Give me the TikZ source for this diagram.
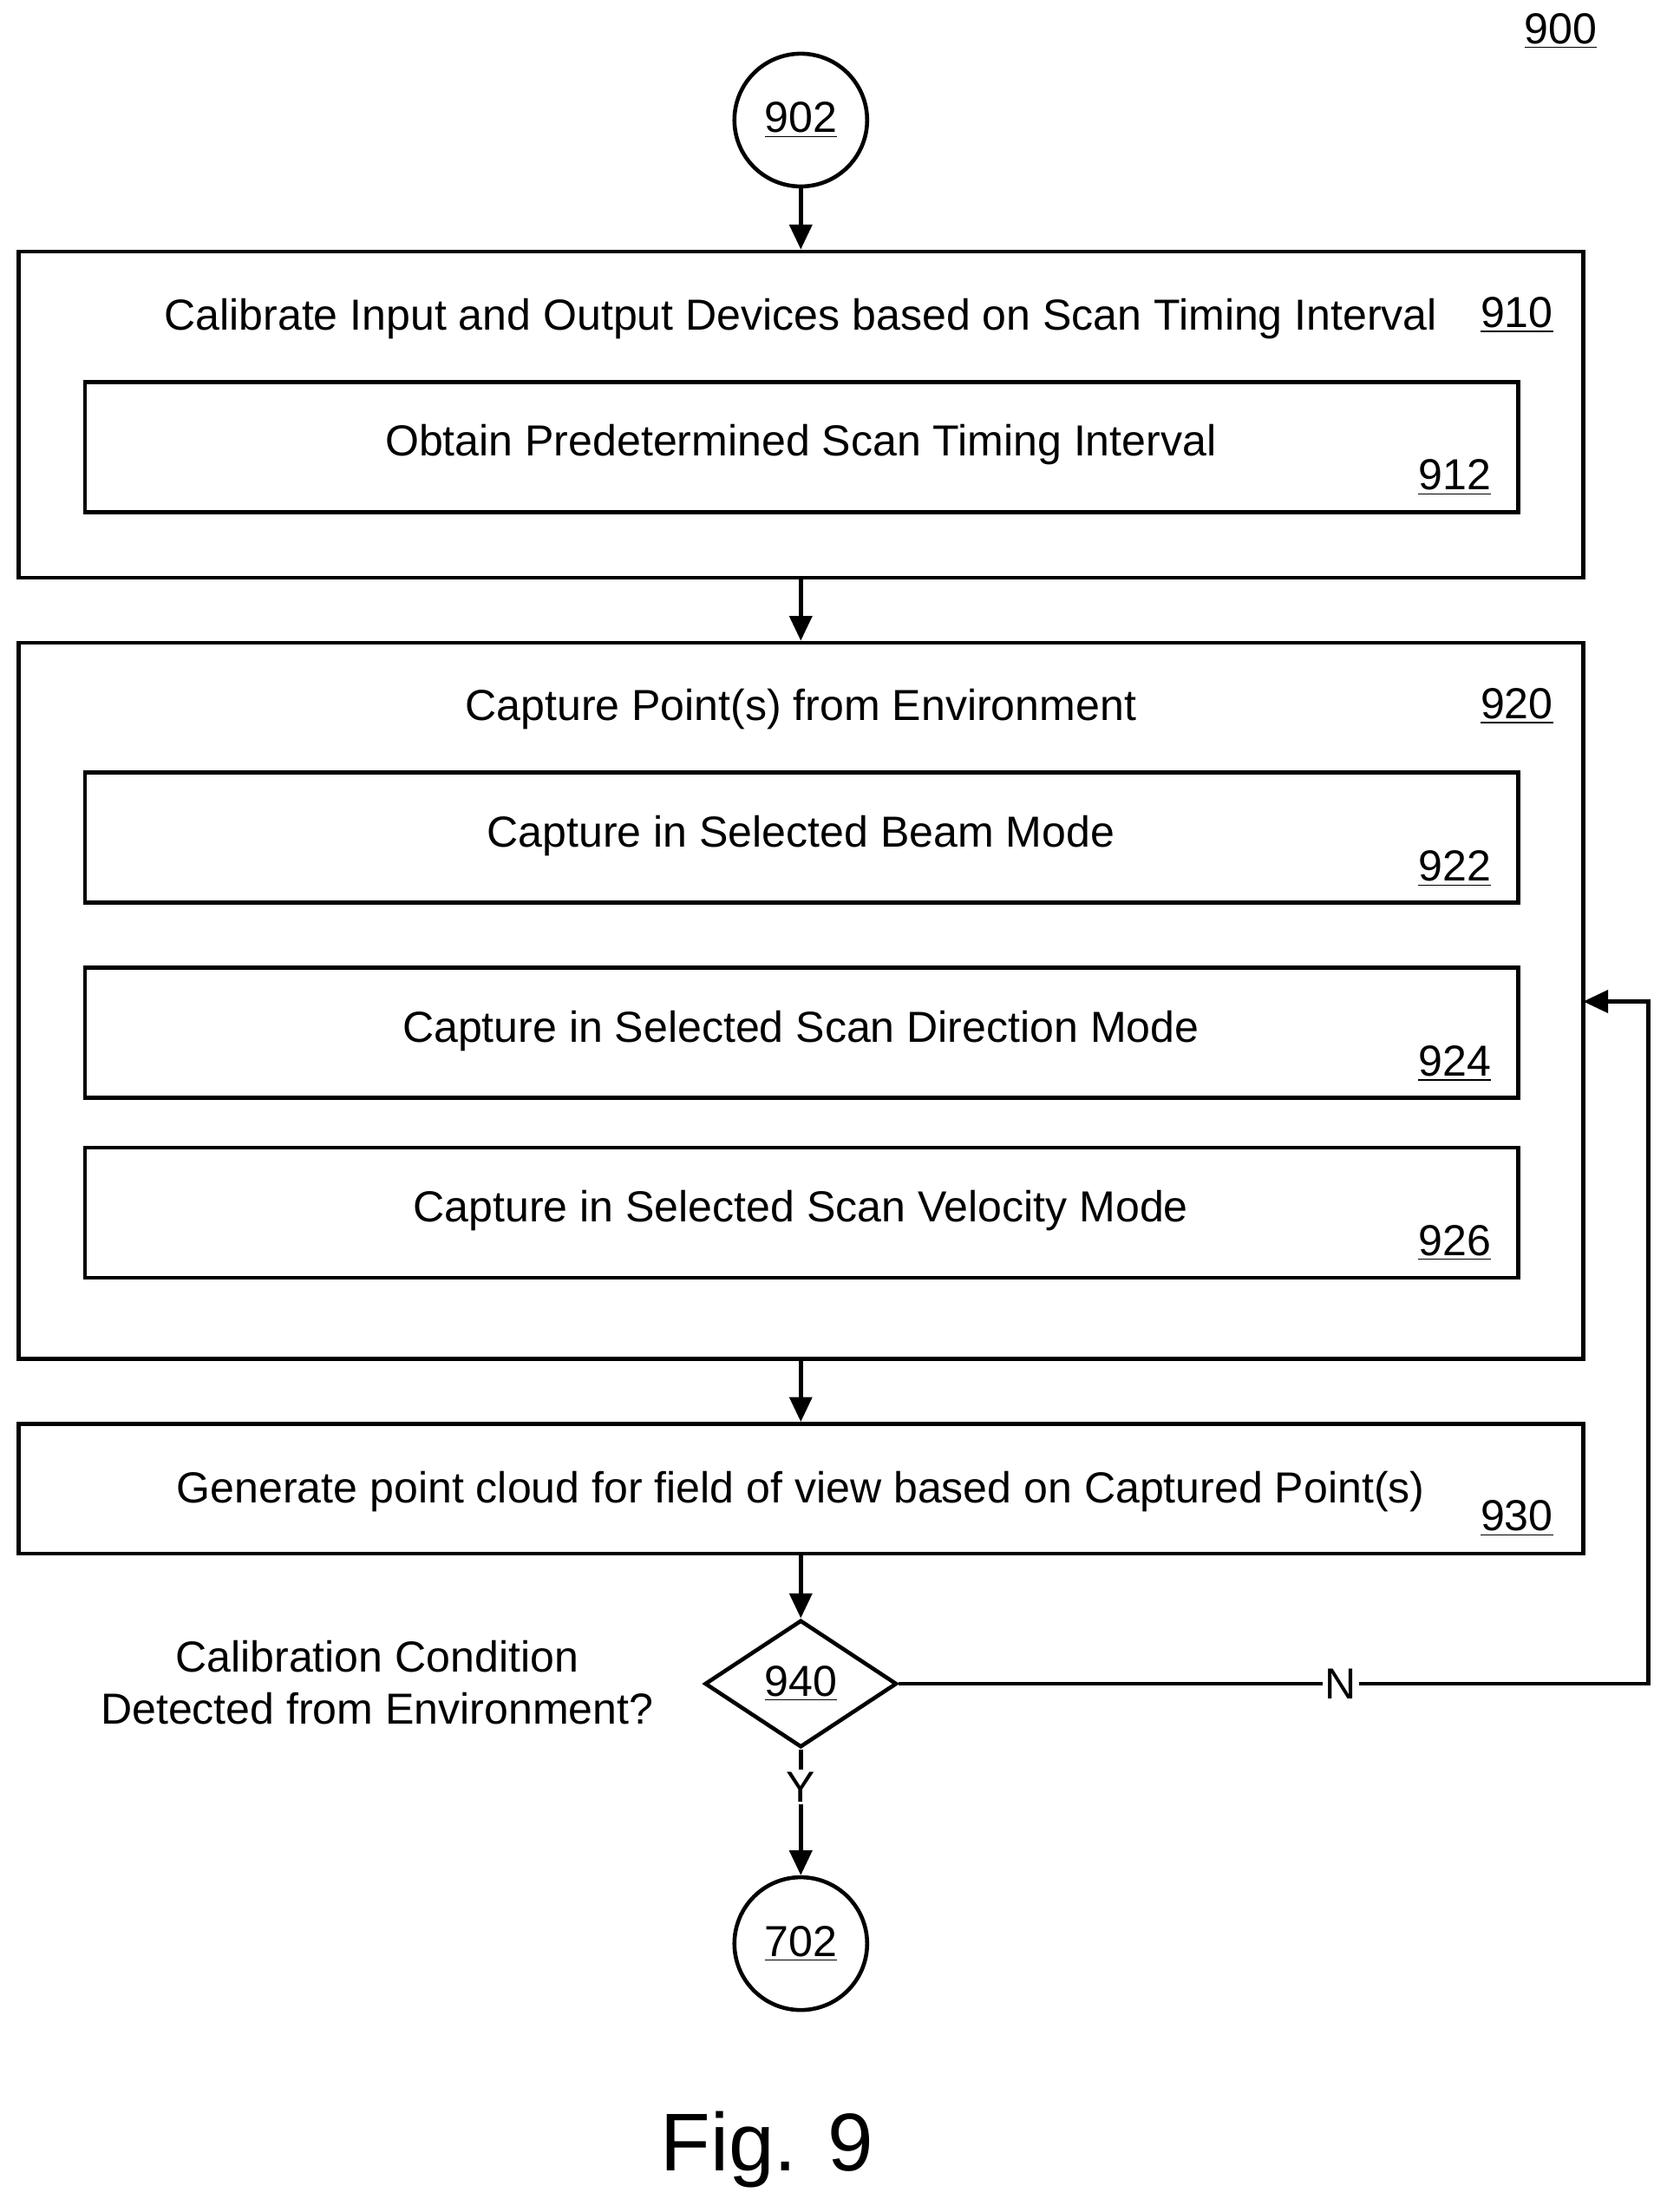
\documentclass[tikz,border=0pt]{standalone}
\usepackage{fontspec}
\setmainfont{Liberation Sans}
\usetikzlibrary{shapes.geometric,arrows.meta}
\begin{document}
\begin{tikzpicture}[x=0.02cm,y=-0.02cm,line width=1.6pt,
  every node/.style={font=\fontsize{17.5}{21}\selectfont},
  big/.style={draw,rectangle,minimum width=22.16cm,inner sep=0},
  sub/.style={draw,rectangle,minimum width=20.3cm,minimum height=1.84cm,inner sep=0},
  circ/.style={draw,circle,minimum size=1.88cm,inner sep=0},
  arr/.style={-{Triangle[length=10pt,width=9pt]}},
  lbl/.style={inner sep=0}]
\useasboundingbox (0,0) rectangle (1180,1566);
\node[lbl] (n900) at (1105,22) {\underline{900}};
\node[circ] (c902) at (567,85) {\underline{902}};
\node[big,minimum height=4.62cm] (b910) at (567,293.5) {};
\node[lbl] (t910) at (567,226) {Calibrate Input and Output Devices based on Scan Timing Interval};
\node[lbl] (l910) at (1074,223) {\underline{910}};
\node[sub] (b912) at (567.5,316.5) {};
\node[lbl] (t912) at (567,315) {Obtain Predetermined Scan Timing Interval};
\node[lbl] (l912) at (1030,338) {\underline{912}};
\node[big,minimum height=10.14cm] (b920) at (567,708.5) {};
\node[lbl] (t920) at (567,502) {Capture Point(s) from Environment};
\node[lbl] (l920) at (1074,500) {\underline{920}};
\node[sub] (b922) at (567.5,593) {};
\node[lbl] (t922) at (567,592) {Capture in Selected Beam Mode};
\node[lbl] (l922) at (1030,615) {\underline{922}};
\node[sub] (b924) at (567.5,731) {};
\node[lbl] (t924) at (567,730) {Capture in Selected Scan Direction Mode};
\node[lbl] (l924) at (1030,753) {\underline{924}};
\node[sub] (b926) at (567.5,858.5) {};
\node[lbl] (t926) at (567,857) {Capture in Selected Scan Velocity Mode};
\node[lbl] (l926) at (1030,880) {\underline{926}};
\node[big,minimum height=1.84cm] (b930) at (567,1054) {};
\node[lbl] (t930) at (567,1056) {Generate point cloud for field of view based on Captured Point(s)};
\node[lbl] (l930) at (1074,1075) {\underline{930}};
\node[draw,diamond,minimum width=2.72cm,minimum height=1.8cm,inner sep=0] (d940) at (567,1192) {\underline{940}};
\node[lbl,align=center] (q) at (267,1191) {Calibration Condition\\[0pt]Detected from Environment?};
\node[circ] (c702) at (567,1376) {\underline{702}};
\node[lbl,font=\fontsize{33}{40}\selectfont] (fig) at (543,1522) {Fig. 9};
\coordinate (r1) at (1167,1192);
\coordinate (r2) at (1167,709);
\coordinate (r3) at (1121,709);
\draw[arr] (c902) -- (b910);
\draw[arr] (b910) -- (b920);
\draw[arr] (b920) -- (b930);
\draw[arr] (b930) -- (d940);
\draw[arr] (d940.east) -- node[pos=0.59,fill=white,inner sep=1pt]{N} (r1) -- (r2) -- (r3);
\draw[arr] (d940.south) -- node[pos=0.3,fill=white,inner sep=1pt]{Y} (c702);
\end{tikzpicture}
\end{document}
